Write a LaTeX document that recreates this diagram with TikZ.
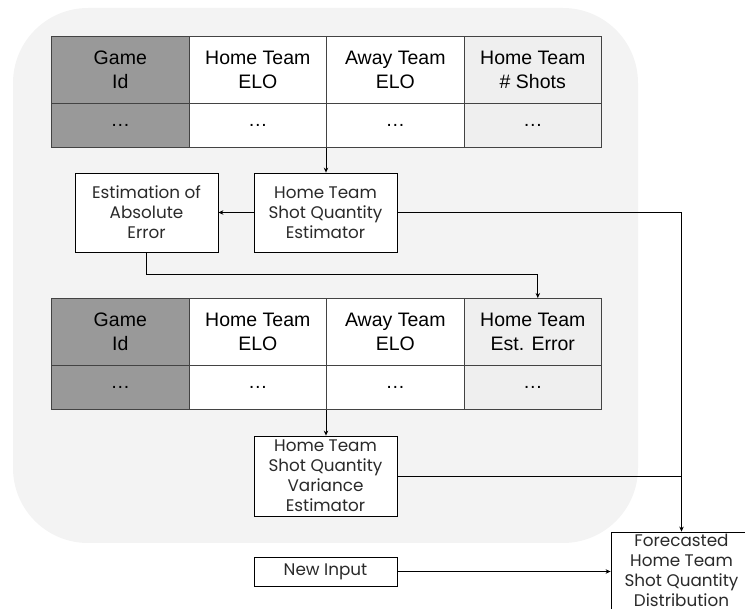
\documentclass[tikz,border=0pt]{standalone}
\usepackage{fontspec}
\setmainfont{Liberation Sans}
\newfontfamily\boxfont{Poppins}
\usetikzlibrary{arrows.meta,calc}
\definecolor{bgpanel}{HTML}{F3F3F3}
\definecolor{darkcol}{HTML}{999999}
\definecolor{lightcol}{HTML}{EFEFEF}
\definecolor{gridline}{HTML}{434343}
\definecolor{boxtext}{HTML}{2A2A2A}
\begin{document}
\begin{tikzpicture}[x=1pt,y=-1pt,
  cell/.style={draw=gridline,line width=1.1pt,inner sep=0pt,anchor=north west,
    minimum width=137.5pt,align=center,font=\fontsize{19.5}{24}\selectfont},
  headcell/.style={cell,minimum height=67pt},
  datacell/.style={cell,minimum height=44pt},
  procbox/.style={draw=black,line width=0.8pt,fill=white,inner sep=0pt,align=center,
    text=boxtext,font=\boxfont\fontsize{16.8}{20}\selectfont,minimum width=143pt},
  arr/.style={draw=black,line width=0.8pt,-{Stealth[length=5pt,width=4.5pt]}},
  link/.style={draw=black,line width=0.8pt}]
\useasboundingbox (0,0) rectangle (745,609);
% background panel
\fill[bgpanel,rounded corners=75pt] (13,8) rectangle (638,543);
% table 1
\node[headcell,fill=darkcol] (t1a) at (51,36) {Game\\Id};
\node[headcell,fill=white] (t1b) at (188.5,36) {Home Team\\ELO};
\node[headcell,fill=white] (t1c) at (326,36) {Away Team\\ELO};
\node[headcell,fill=lightcol] (t1d) at (463.5,36) {Home Team\\\# Shots};
\node[datacell,fill=darkcol] (t1e) at (51,103) {\dots};
\node[datacell,fill=white] (t1f) at (188.5,103) {\dots};
\node[datacell,fill=white] (t1g) at (326,103) {\dots};
\node[datacell,fill=lightcol] (t1h) at (463.5,103) {\dots};
% table 2
\node[headcell,fill=darkcol] (t2a) at (51,298) {Game\\Id};
\node[headcell,fill=white] (t2b) at (188.5,298) {Home Team\\ELO};
\node[headcell,fill=white] (t2c) at (326,298) {Away Team\\ELO};
\node[headcell,fill=lightcol] (t2d) at (463.5,298) {Home Team\\Est. Error};
\node[datacell,fill=darkcol] (t2e) at (51,365) {\dots};
\node[datacell,fill=white] (t2f) at (188.5,365) {\dots};
\node[datacell,fill=white] (t2g) at (326,365) {\dots};
\node[datacell,fill=lightcol] (t2h) at (463.5,365) {\dots};
% process boxes
\node[procbox,minimum height=79pt] (abs) at (146.5,212.5) {Estimation of\\Absolute\\Error};
\node[procbox,minimum height=79pt] (est) at (325.5,212.5) {Home Team\\Shot Quantity\\Estimator};
\node[procbox,minimum height=80pt] (var) at (325.5,476) {Home Team\\Shot Quantity\\Variance\\Estimator};
\node[procbox,minimum height=29pt] (ni) at (325.5,571.5) {New Input};
\node[procbox,minimum width=141pt,minimum height=84pt] (fc) at (681.5,574) {};
\node[align=center,text=boxtext,font=\boxfont\fontsize{16.8}{20}\selectfont,inner sep=0pt] (fctext) at (681.5,570) {Forecasted\\Home Team\\Shot Quantity\\Distribution};
% connectors
\coordinate (t1out) at (t1g.south west);
\coordinate (t2out) at (t2g.south west);
\draw[arr] (t1out) -- (t1out |- est.north);
\draw[arr] (est.west) -- (abs.east);
\draw[arr] (est.east) -| (fc.north);
\draw[arr] (abs.south) -- ++(0,22) -| ([xshift=5pt]t2d.north);
\draw[arr] (t2out) -- (t2out |- var.north);
\draw[link] (var.east) -- (var.east -| fc.north);
\draw[arr] (ni.east) -- (ni.east -| fc.west);
\end{tikzpicture}
\end{document}
